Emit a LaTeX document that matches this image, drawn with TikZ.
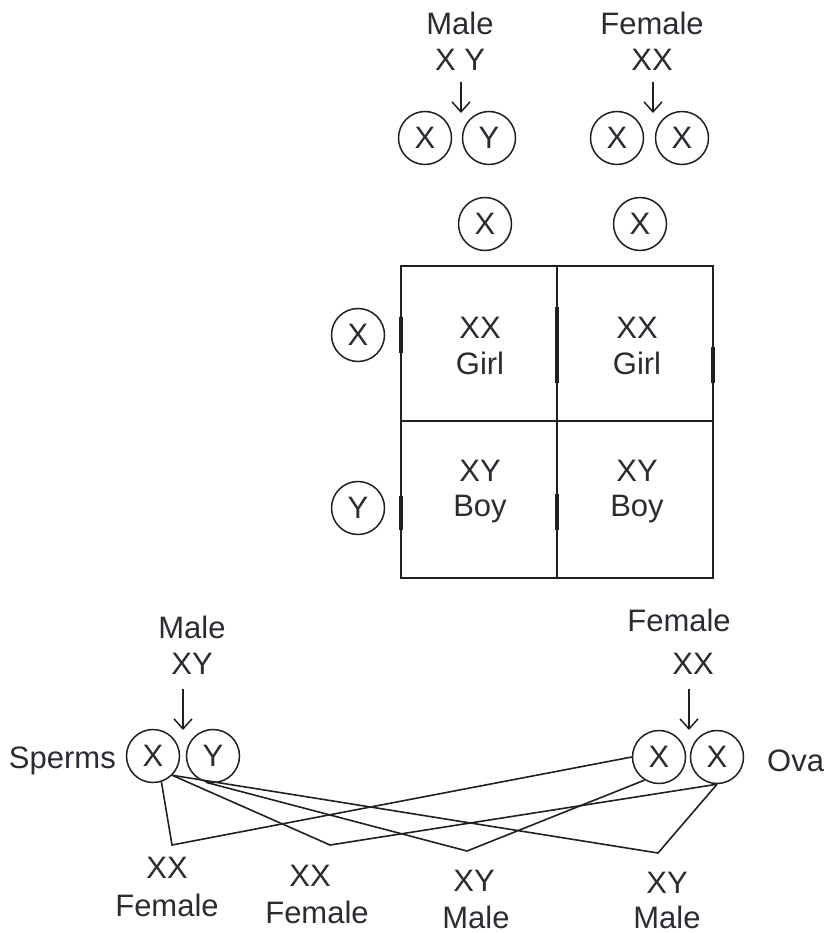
\documentclass[tikz,border=0pt]{standalone}
\usepackage{fontspec}
\setmainfont{Liberation Sans}
\usetikzlibrary{arrows.meta}
\definecolor{txt}{RGB}{43,43,51}
\definecolor{ink}{RGB}{35,31,32}
\begin{document}
\begin{tikzpicture}[x=1pt,y=-1pt,
  every node/.style={text=txt,font=\fontsize{31}{37}\selectfont},
  lbl/.style={anchor=base,inner sep=0pt},
  gam/.style={circle,draw=ink,line width=1.5pt,minimum size=53pt,inner sep=0pt},
  arr/.style={draw=ink,line width=1.5pt,-{Straight Barb[length=10pt,width=18pt]}},
  grid/.style={draw=ink,line width=1.8pt},
  tick/.style={draw=ink,line width=3.5pt},
  cross/.style={draw=ink,line width=1.6pt,line join=miter}]
\useasboundingbox (0,0) rectangle (825,933);
% ---- top parents
\node[lbl] (tmale) at (460,35) {Male};
\node[lbl] (tmxy) at (460,71) {X Y};
\node[lbl] (tfem) at (652,35) {Female};
\node[lbl] (tfxx) at (652,71) {XX};
\coordinate (ta1s) at (461,82); \coordinate (ta1e) at (461,113);
\coordinate (ta2s) at (653,82); \coordinate (ta2e) at (653,113);
\draw[arr] (ta1s) -- (ta1e);
\draw[arr] (ta2s) -- (ta2e);
\node[gam] (tmX) at (425,138) {X};
\node[gam] (tmY) at (489,138) {Y};
\node[gam] (tfX1) at (617,138) {X};
\node[gam] (tfX2) at (682,138) {X};
% ---- Punnett square
\node[gam] (pcX1) at (485,224) {X};
\node[gam] (pcX2) at (640,224) {X};
\node[gam] (prX) at (358,335) {X};
\node[gam] (prY) at (358,508) {Y};
\draw[grid] (401,266) rectangle (713,578);
\draw[grid] (557,266) -- (557,578);
\draw[grid] (401,421) -- (713,421);
\draw[tick] (401,317) -- (401,353);
\draw[tick] (401,496) -- (401,530);
\draw[tick] (557,307) -- (557,383);
\draw[tick] (557,494) -- (557,530);
\draw[tick] (713,347) -- (713,383);
\node[lbl] (c11a) at (480,338) {XX};
\node[lbl] (c11b) at (480,374) {Girl};
\node[lbl] (c12a) at (637,338) {XX};
\node[lbl] (c12b) at (637,374) {Girl};
\node[lbl] (c21a) at (480,481) {XY};
\node[lbl] (c21b) at (480,516) {Boy};
\node[lbl] (c22a) at (637,481) {XY};
\node[lbl] (c22b) at (637,516) {Boy};
% ---- bottom cross
\node[lbl] (bmale) at (192,638) {Male};
\node[lbl] (bmxy) at (192,674) {XY};
\node[lbl] (bfem) at (679,631) {Female};
\node[lbl] (bfxx) at (693,674) {XX};
\coordinate (ba1s) at (183,689); \coordinate (ba1e) at (183,730);
\coordinate (ba2s) at (689,689); \coordinate (ba2e) at (689,730);
\draw[arr] (ba1s) -- (ba1e);
\draw[arr] (ba2s) -- (ba2e);
\node[gam] (sX) at (153,756) {X};
\node[gam] (sY) at (213,756) {Y};
\node[gam] (oX1) at (659,757) {X};
\node[gam] (oX2) at (717,757) {X};
\node[lbl,anchor=base east] (sperms) at (116,768) {Sperms};
\node[lbl,anchor=base west] (ova) at (767,771) {Ova};
\coordinate (k1) at (172,845);
\coordinate (k2) at (330,845);
\coordinate (k3) at (467,851);
\coordinate (k4) at (658,853);
\draw[cross] (sX.-72) -- (k1) -- (oX1.180);
\draw[cross] (sX.-45) -- (k2) -- (oX2.-90);
\draw[cross] (sX.-45) -- (k4) -- (oX2.-90);
\draw[cross] (sY.-105) -- (k3) -- (oX1.-122);
\node[lbl] (o1a) at (167,878) {XX};
\node[lbl] (o1b) at (167,916) {Female};
\node[lbl] (o2a) at (310,886) {XX};
\node[lbl] (o2b) at (317,923) {Female};
\node[lbl] (o3a) at (474,891) {XY};
\node[lbl] (o3b) at (476,928) {Male};
\node[lbl] (o4a) at (667,893) {XY};
\node[lbl] (o4b) at (667,928) {Male};
\end{tikzpicture}
\end{document}
